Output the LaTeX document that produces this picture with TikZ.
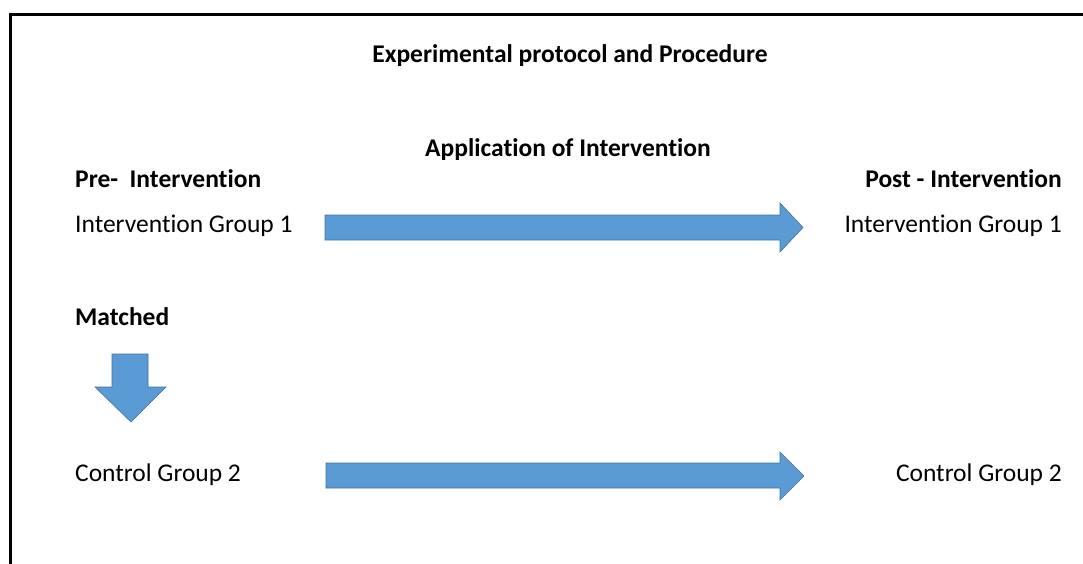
\documentclass[tikz,border=0pt]{standalone}
\usepackage{fontspec}
\setmainfont{Carlito}[Ligatures={NoCommon}]
\begin{document}
\begin{tikzpicture}[x=1pt,y=-1pt,
  lbl/.style={inner sep=0pt,font=\fontsize{25.5}{30}\selectfont},
  hdr/.style={lbl,font=\fontsize{25.5}{30}\selectfont\bfseries},
  blockarrow/.style={fill={rgb,255:red,91;green,155;blue,213},draw={rgb,255:red,65;green,113;blue,156},line width=0.6pt,line join=miter},
  frameline/.style={line width=3pt,black}]
\useasboundingbox (0,0) rectangle (1083,564);
% frame: top and left edges
\draw[frameline] (10.5,564) -- (10.5,15) -- (1083,15);
% headings
\node[hdr,anchor=base] (title) at (570,63) {Experimental protocol and Procedure};
\node[hdr,anchor=base] (apply) at (568,157) {Application of Intervention};
\node[hdr,anchor=base west] (pre) at (75,187) {Pre-\ \ Intervention};
\node[hdr,anchor=base east] (post) at (1062,187) {Post - Intervention};
\node[hdr,anchor=base west] (matched) at (75,325) {Matched};
% groups
\node[lbl,anchor=base west] (ig1) at (75,232) {Intervention Group 1};
\node[lbl,anchor=base east] (ig1b) at (1062,232) {Intervention Group 1};
\node[lbl,anchor=base west] (cg2) at (75,481) {Control Group 2};
\node[lbl,anchor=base east] (cg2b) at (1062,481) {Control Group 2};
% block arrows
\draw[blockarrow] (325,215) -- (780,215) -- (780,203) -- (803,227.5) -- (780,252) -- (780,240) -- (325,240) -- cycle;
\draw[blockarrow] (326,463) -- (780,463) -- (780,452) -- (804,476) -- (780,500) -- (780,488) -- (326,488) -- cycle;
\draw[blockarrow] (112,354) -- (148,354) -- (148,387) -- (166,387) -- (131,422) -- (95,387) -- (112,387) -- cycle;
\end{tikzpicture}
\end{document}
